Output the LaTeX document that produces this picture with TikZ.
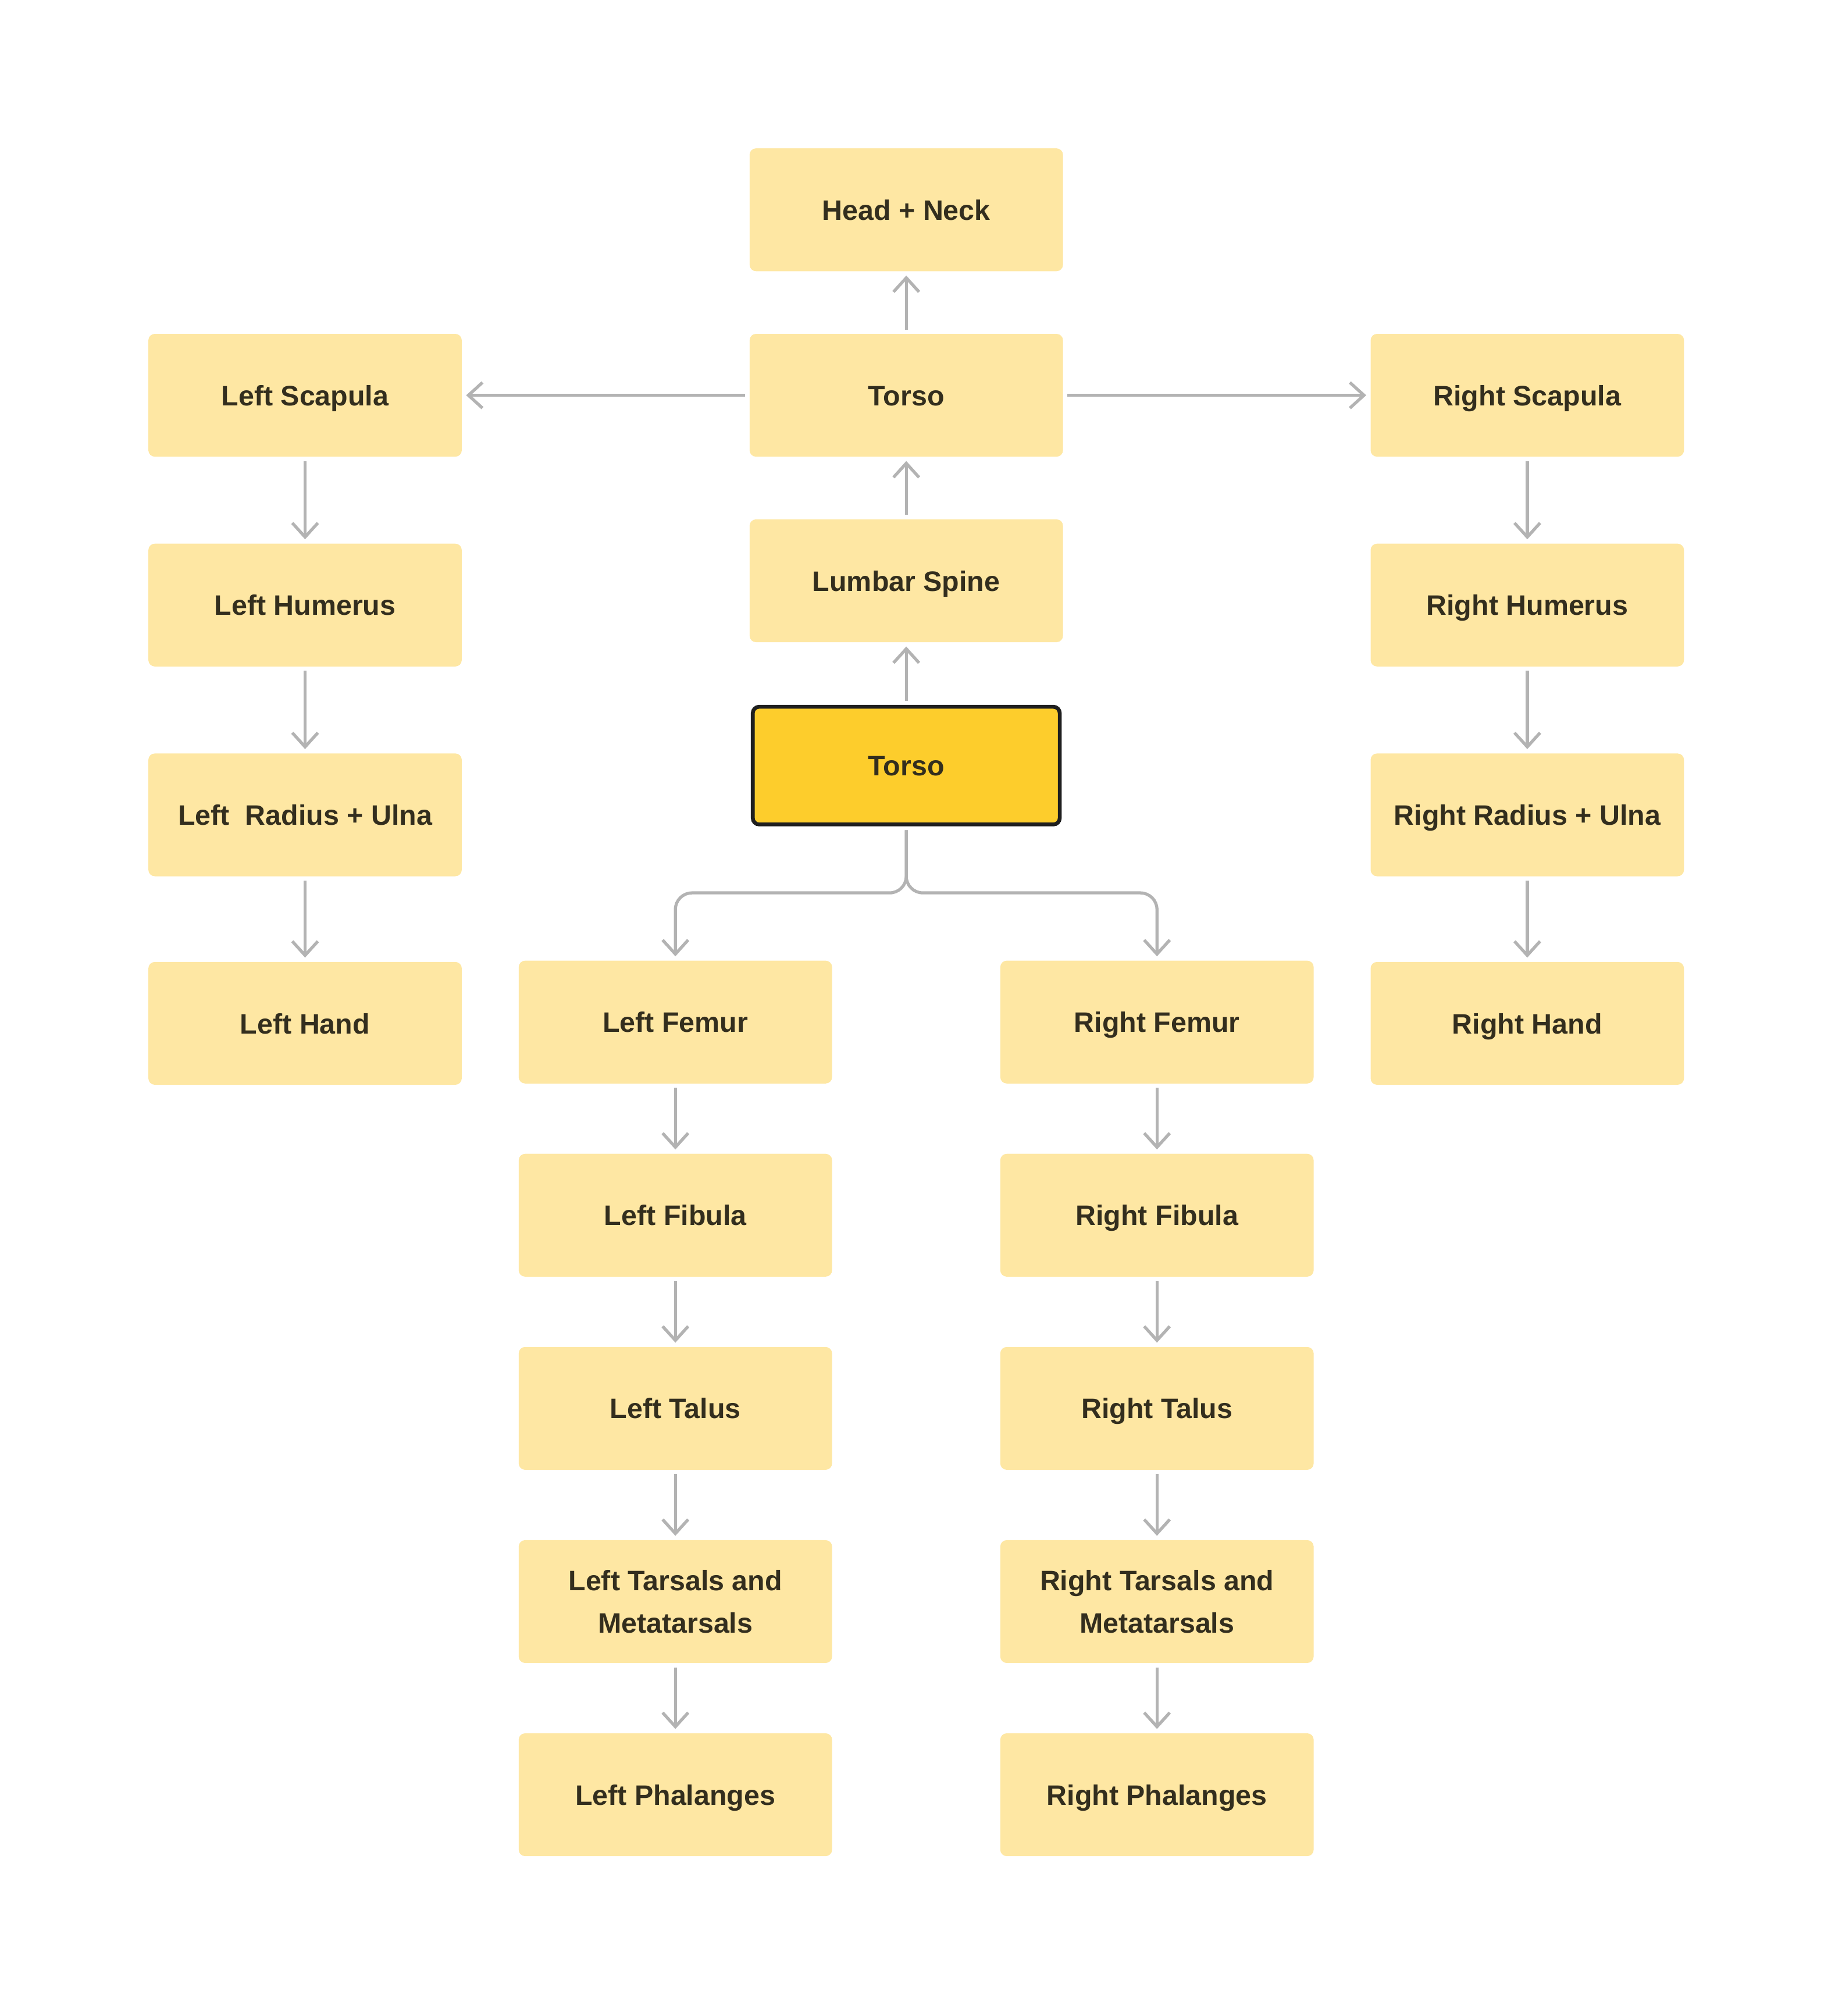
\documentclass[tikz,border=0pt]{standalone}
\usepackage{fontspec}
\setmainfont{Liberation Sans}
\usepackage{tikz}
\usetikzlibrary{arrows.meta}

\definecolor{bonefill}{HTML}{FEE7A3}
\definecolor{rootfill}{HTML}{FDCD2C}
\definecolor{rootline}{HTML}{1F1F1F}
\definecolor{linkgray}{HTML}{B3B3B3}
\definecolor{labeltext}{HTML}{332E1E}

\begin{document}
\begin{tikzpicture}[x=0.5pt,y=-0.5pt
	,>={Straight Barb[length=5.5pt,width=10pt]}
	,bone/.style={fill=bonefill,rounded corners=2.5pt
		,minimum width=122.5pt,minimum height=48pt
		,font=\bfseries\fontsize{11}{16.5}\selectfont
		,text height=8pt,text depth=0pt
		,text=labeltext,align=center}
	,twoline/.style={text height={},text depth={}}
	,rootbone/.style={bone,fill=rootfill,draw=rootline,line width=1.5pt
		,minimum width=120pt,minimum height=46pt}
	,link/.style={->,draw=linkgray,line width=1.2pt
		,shorten >=1.5pt,shorten <=1.5pt}]

  \useasboundingbox (0,0) rectangle (1440,1576);

  % spine
  \node[bone](head)   at (708.5,164) {Head + Neck};
  \node[bone](torso)  at (708.5,309) {Torso};
  \node[bone](lumbar) at (708.5,454) {Lumbar Spine};
  \node[rootbone](root) at (708.5,598.5) {Torso};
  % left arm
  \node[bone](lscap)  at (238.5,309) {Left Scapula};
  \node[bone](lhum)   at (238.5,473) {Left Humerus};
  \node[bone](lrad)   at (238.5,637) {Left\ \ Radius + Ulna};
  \node[bone](lhand)  at (238.5,800) {Left Hand};
  % right arm
  \node[bone](rscap)  at (1194,309) {Right Scapula};
  \node[bone](rhum)   at (1194,473) {Right Humerus};
  \node[bone](rrad)   at (1194,637) {Right Radius + Ulna};
  \node[bone](rhand)  at (1194,800) {Right Hand};
  % left leg
  \node[bone](lfem)   at (528,799)  {Left Femur};
  \node[bone](lfib)   at (528,950)  {Left Fibula};
  \node[bone](ltal)   at (528,1101) {Left Talus};
  \node[bone,twoline](ltars) at (528,1252) {Left Tarsals and\\Metatarsals};
  \node[bone](lphal)  at (528,1403) {Left Phalanges};
  % right leg
  \node[bone](rfem)   at (904.5,799)  {Right Femur};
  \node[bone](rfib)   at (904.5,950)  {Right Fibula};
  \node[bone](rtal)   at (904.5,1101) {Right Talus};
  \node[bone,twoline](rtars) at (904.5,1252) {Right Tarsals and\\Metatarsals};
  \node[bone](rphal)  at (904.5,1403) {Right Phalanges};

  \coordinate (fork) at (708.5,698);

  % spine, bottom to top
  \path [link] (root)   edge (lumbar);
  \path [link] (lumbar) edge (torso);
  \path [link] (torso)  edge (head);
  \path [link] (torso)  edge (lscap);
  \path [link] (torso)  edge (rscap);
  % arms
  \path [link] (lscap)  edge (lhum);
  \path [link] (lhum)   edge (lrad);
  \path [link] (lrad)   edge (lhand);
  \path [link] (rscap)  edge (rhum);
  \path [link] (rhum)   edge (rrad);
  \path [link] (rrad)   edge (rhand);
  % hips
  \draw [link,rounded corners=6.5pt] (root.south) -- (fork) -| (lfem.north);
  \draw [link,rounded corners=6.5pt] (root.south) -- (fork) -| (rfem.north);
  % legs
  \path [link] (lfem)   edge (lfib);
  \path [link] (lfib)   edge (ltal);
  \path [link] (ltal)   edge (ltars);
  \path [link] (ltars)  edge (lphal);
  \path [link] (rfem)   edge (rfib);
  \path [link] (rfib)   edge (rtal);
  \path [link] (rtal)   edge (rtars);
  \path [link] (rtars)  edge (rphal);

\end{tikzpicture}
\end{document}
